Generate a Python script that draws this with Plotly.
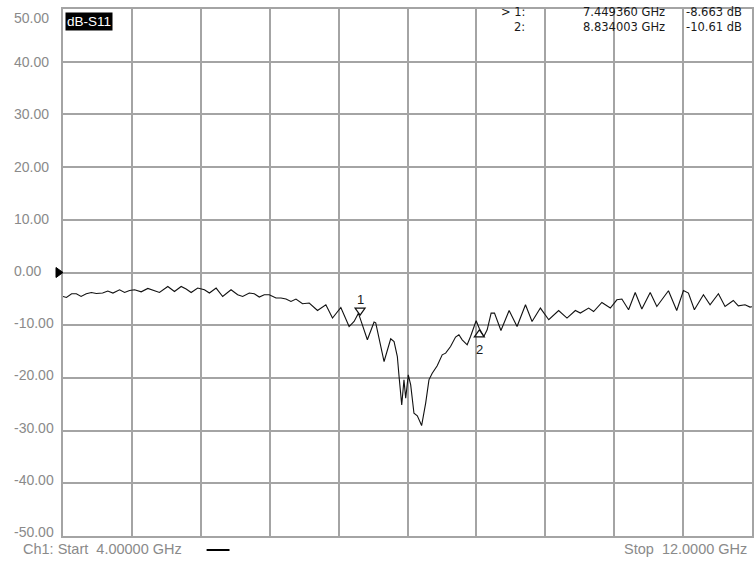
import plotly.graph_objects as go

# S11 sweep, 4 - 12 GHz
FREQ_GHZ = [4.00, 4.04, 4.10, 4.155, 4.21, 4.27, 4.33, 4.387, 4.46, 4.52, 4.58, 4.657, 4.715,
            4.773, 4.831, 4.908, 4.985, 5.043, 5.12, 5.217, 5.294, 5.372, 5.43, 5.488, 5.564,
            5.642, 5.70, 5.778, 5.854, 5.951, 6.028, 6.086, 6.163, 6.221, 6.279, 6.337, 6.395,
            6.473, 6.531, 6.589, 6.647, 6.705, 6.781, 6.859, 6.955, 7.052, 7.129, 7.226, 7.322,
            7.38, 7.43, 7.44936, 7.534, 7.612, 7.631, 7.728, 7.805, 7.844, 7.882, 7.902, 7.933,
            7.959, 7.979, 8.009, 8.037, 8.075, 8.114, 8.164, 8.211, 8.249, 8.287, 8.345, 8.403,
            8.443, 8.50, 8.558, 8.597, 8.635, 8.693, 8.732, 8.797, 8.834003, 8.886, 8.925, 8.971,
            9.01, 9.085, 9.18, 9.272, 9.37, 9.446, 9.543, 9.64, 9.755, 9.852, 9.949, 10.007,
            10.103, 10.161, 10.257, 10.355, 10.431, 10.489, 10.567, 10.644, 10.721, 10.818,
            10.895, 11.03, 11.126, 11.204, 11.262, 11.331, 11.436, 11.513, 11.61, 11.687,
            11.783, 11.841, 11.919, 11.977, 12.0]
S11_DB = [-4.55, -4.74, -4.04, -4.04, -4.55, -4.04, -3.79, -3.98, -3.90, -3.52, -3.90, -3.28, -3.79,
          -3.41, -3.28, -3.66, -3.03, -3.41, -3.79, -2.65, -3.60, -2.65, -3.14, -3.79, -2.95,
          -3.28, -3.90, -2.95, -4.55, -3.28, -4.23, -4.55, -3.90, -4.04, -4.66, -4.23, -4.23,
          -4.85, -4.85, -5.04, -5.50, -5.04, -5.94, -5.80, -7.21, -6.13, -8.65, -6.64, -10.25,
          -9.30, -7.75, -8.663, -12.77, -9.41, -9.54, -16.89, -12.58, -13.10, -15.95, -19.74, -25.12,
          -20.37, -23.85, -19.42, -21.32, -26.70, -27.21, -29.05, -24.80, -20.37, -19.10, -17.71, -15.62,
          -15.30, -14.05, -12.26, -11.82, -12.77, -13.72, -12.15, -9.16, -10.61, -12.15, -10.87, -7.70,
          -7.70, -11.0, -7.21, -10.25, -6.13, -9.30, -6.75, -8.97, -7.21, -8.65, -7.21, -7.70,
          -6.75, -7.40, -5.69, -6.75, -5.18, -5.04, -7.07, -3.79, -6.94, -3.79,
          -6.45, -3.47, -7.21, -3.41, -3.90, -7.07, -4.23, -6.13, -4.04, -6.45,
          -5.31, -6.32, -6.13, -6.56, -6.5]

MARKER_ID = [1, 2]
MARKER_GHZ = [7.449360, 8.834003]
MARKER_DB = [-8.663, -10.61]

Y_TICKS = [50, 40, 30, 20, 10, 0, -10, -20, -30, -40, -50]
START_GHZ, STOP_GHZ = 4.0, 12.0

GRID = "#a4a4a4"
LABEL_GREY = "#8a8a8a"
FONT = "Liberation Sans, Arial, sans-serif"
READOUT_FONT = "DejaVu Sans, sans-serif"

fig = go.Figure()
fig.add_trace(go.Scatter(x=FREQ_GHZ, y=S11_DB, mode="lines",
                         line=dict(color="#111111", width=1.1),
                         hoverinfo="skip", showlegend=False))

annotations = []
shapes = []

# left-aligned scale labels
for i, v in enumerate(Y_TICKS):
    shift = -8.5 if i == 0 else 0.5 * i - 1
    annotations.append(dict(text=f"{v:.2f}", x=-0.0738, xref="paper", xanchor="left",
                            y=v, yref="y", yanchor="middle", yshift=shift, showarrow=False,
                            font=dict(family=FONT, size=14, color=LABEL_GREY)))

# trace name box
annotations.append(dict(text="dB-S11", x=0, xref="paper", xanchor="left", xshift=2,
                        y=1, yref="paper", yanchor="top", yshift=-3, showarrow=False,
                        bgcolor="#000000", borderpad=1,
                        font=dict(family=FONT, size=13.5, color="#ffffff")))

# marker readout
row_y = [-3, -18]
for k, (mid, f, d) in enumerate(zip(MARKER_ID, MARKER_GHZ, MARKER_DB)):
    prefix = "> " if k == 0 else ""
    common = dict(yref="paper", y=1, yanchor="middle", yshift=row_y[k], showarrow=False,
                  borderpad=0, font=dict(family=READOUT_FONT, size=11.5, color="#1a1a1a"))
    annotations.append(dict(text=f"{prefix}{mid}:", xref="paper", x=(527 - 63) / 691,
                            xanchor="right", **common))
    annotations.append(dict(text=f"{f:.6f} GHz", xref="paper", x=(668 - 63) / 691,
                            xanchor="right", **common))
    annotations.append(dict(text=f"{d:.4g} dB", xref="paper", x=(687 - 63) / 691,
                            xanchor="left", **common))

# marker symbols and numbers
for k, (mid, f, d) in enumerate(zip(MARKER_ID, MARKER_GHZ, MARKER_DB)):
    if k == 0:
        path = "M -5,10 L 5,10 L 0,3 Z"
        num_shift = 19
    else:
        path = "M 0,-1.5 L -5,-8.5 L 5,-8.5 Z"
        num_shift = -21
    shapes.append(dict(type="path", xref="x", yref="y", xsizemode="pixel", ysizemode="pixel",
                       xanchor=f, yanchor=d, path=path,
                       line=dict(color="#111111", width=1.2), fillcolor="rgba(0,0,0,0)"))
    annotations.append(dict(text=str(mid), x=f, y=d, xref="x", yref="y", yanchor="middle",
                            yshift=num_shift, showarrow=False,
                            font=dict(family=FONT, size=13, color="#1a1a1a")))

# reference level pointer at 0 dB
shapes.append(dict(type="path", xref="paper", yref="y", xsizemode="pixel", ysizemode="pixel",
                   xanchor=0, yanchor=0, path="M -7,5 L 0,0 L -7,-5 Z",
                   line=dict(color="#000000", width=1), fillcolor="#000000"))

# footer
annotations.append(dict(text=f"Ch1: Start  {START_GHZ:.5f} GHz", x=(21 - 63) / 691, xref="paper",
                        xanchor="left", y=0, yref="paper", yanchor="middle", yshift=-13,
                        showarrow=False, font=dict(family=FONT, size=14.5, color=LABEL_GREY)))
annotations.append(dict(text=f"Stop  {STOP_GHZ:.4f} GHz", x=(751 - 63) / 691, xref="paper",
                        xanchor="right", y=0, yref="paper", yanchor="middle", yshift=-13,
                        showarrow=False, font=dict(family=FONT, size=14.5, color=LABEL_GREY)))
shapes.append(dict(type="line", xref="paper", yref="paper", x0=(207 - 63) / 691,
                   x1=(230 - 63) / 691, y0=-0.0266, y1=-0.0266,
                   line=dict(color="#000000", width=2)))

axis_common = dict(showgrid=True, gridcolor=GRID, gridwidth=1.5, zeroline=False,
                   showticklabels=False, ticks="", showline=True, mirror=True,
                   linecolor=GRID, linewidth=1.5, fixedrange=True)

fig.update_layout(
    width=754, height=563, autosize=False,
    margin=dict(l=63, r=0, t=9, b=27),
    paper_bgcolor="#ffffff", plot_bgcolor="#ffffff",
    xaxis=dict(range=[START_GHZ, STOP_GHZ], tick0=START_GHZ, dtick=0.8, **axis_common),
    yaxis=dict(range=[-50, 50], tick0=-50, dtick=10, **axis_common),
    annotations=annotations, shapes=shapes, showlegend=False,
)

fig.write_html("out.html")
